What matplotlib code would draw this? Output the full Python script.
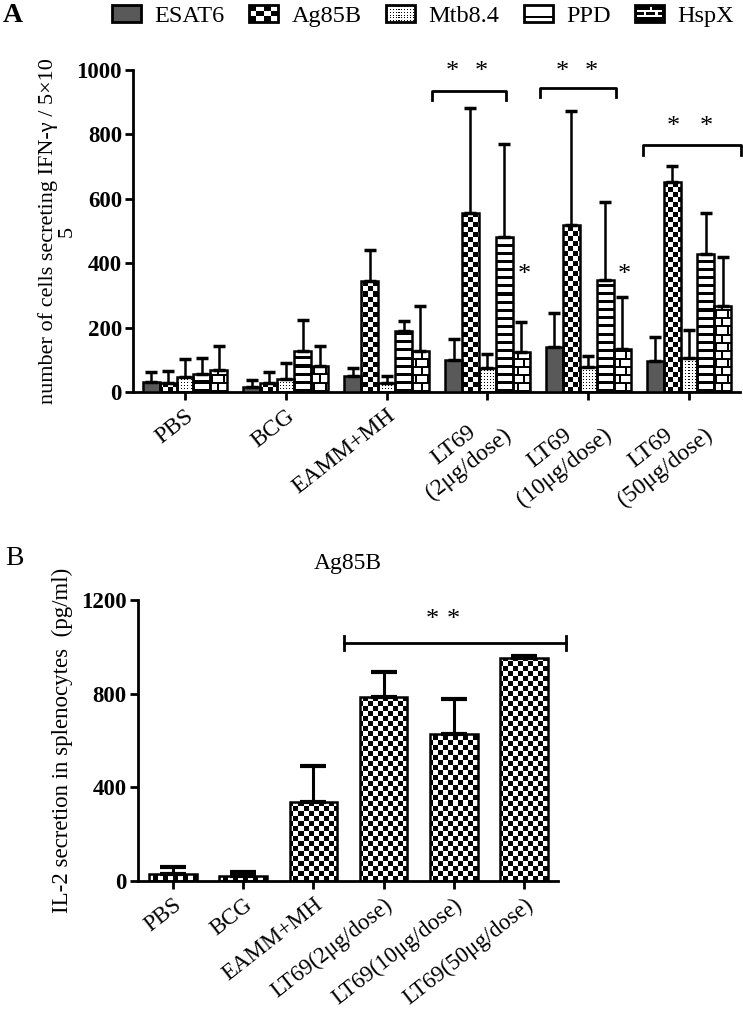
import numpy as np
import matplotlib
matplotlib.use('Agg')
import matplotlib.pyplot as plt
from matplotlib.colors import ListedColormap
from matplotlib.patches import Rectangle
from matplotlib.legend_handler import HandlerBase

plt.rcParams['font.family'] = ['Liberation Serif', 'DejaVu Serif']

# ---- data, panel A (IFN-gamma ELISPOT) ----
groups_a = ['PBS', 'BCG', 'EAMM+MH', 'LT69\n(2μg/dose)', 'LT69\n(10μg/dose)', 'LT69\n(50μg/dose)']
antigens = ['ESAT6', 'Ag85B', 'Mtb8.4', 'PPD', 'HspX']
esat6 = [30, 17, 51, 99, 139, 96]
esat6_sd = [33, 20, 22, 66, 105, 74]
ag85b = [29, 29, 346, 555, 519, 651]
ag85b_sd = [35, 34, 95, 326, 354, 51]
mtb84 = [48, 40, 27, 76, 77, 105]
mtb84_sd = [54, 51, 23, 42, 35, 88]
ppd = [56, 128, 190, 482, 348, 429]
ppd_sd = [50, 94, 30, 288, 241, 126]
hspx = [68, 81, 126, 123, 133, 268]
hspx_sd = [76, 63, 142, 95, 161, 150]

# ---- data, panel B (IL-2, Ag85B) ----
groups_b = ['PBS', 'BCG', 'EAMM+MH', 'LT69(2μg/dose)', 'LT69(10μg/dose)', 'LT69(50μg/dose)']
il2 = [30, 23, 337, 788, 628, 952]
il2_sd = [28, 15, 153, 106, 149, 10]

# significance marks: (x_left, x_right, y_bar, y_tick_end)
brackets_a = [(2.45, 3.18, 936, 908), (3.52, 4.28, 945, 915), (4.54, 5.52, 767, 737)]
stars_a = [(2.65, 995), (2.94, 995), (3.74, 995), (4.03, 995),
           (4.84, 822), (5.17, 822), (3.37, 362), (4.36, 362)]
brackets_b = [(2.44, 5.6, 1016, 1045, 985)]
stars_b = [(3.70, 1115), (3.99, 1115)]

BW = ListedColormap(['white', 'black'])
GRAY = '#595959'
ROT = 38


def texture(kind, w, h):
    yy, xx = np.mgrid[0:h, 0:w]
    if kind == 'checker':
        return ((xx // 5) + (yy // 5)) % 2
    if kind == 'dots':
        return (((xx % 3 == 0) & (yy % 3 == 0))).astype(int)
    if kind == 'stripes':
        return (yy % 8 < 3).astype(int)
    if kind == 'brick':
        band = yy // 8
        hline = yy % 8 < 2
        vline = (xx + (band % 2) * 6) % 12 < 2
        return (hline | vline).astype(int)
    return np.zeros((h, w), dtype=int)


def fill_bars(fig, ax, bars, kind):
    x0, x1 = ax.get_xlim()
    y0, y1 = ax.get_ylim()
    bb = ax.get_position()
    w = int(round(bb.width * fig.bbox.width))
    h = int(round(bb.height * fig.bbox.height))
    arr = texture(kind, w, h)
    for b in bars:
        im = ax.imshow(arr, cmap=BW, vmin=0, vmax=1, extent=(x0, x1, y0, y1),
                       origin='lower', interpolation='nearest', aspect='auto', zorder=2)
        im.set_clip_path(b)
    ax.set_xlim(x0, x1)
    ax.set_ylim(y0, y1)


class TextureHandler(HandlerBase):
    def __init__(self, kind):
        super().__init__()
        self.kind = kind

    def create_artists(self, legend, orig_handle, xdescent, ydescent, width, height, fontsize, trans):
        x0, y0 = -xdescent, -ydescent
        arts = []

        def rect(x, y, w, h, **kw):
            arts.append(Rectangle((x, y), w, h, transform=trans, **kw))

        k = self.kind
        if k == 'solid':
            rect(x0, y0, width, height, fc=GRAY, ec='none')
        elif k == 'checker':
            rect(x0, y0, width, height, fc='white', ec='none')
            for i in range(4):
                for j in range(3):
                    if (i + j) % 2 == 0:
                        rect(x0 + i * width / 4, y0 + j * height / 3, width / 4, height / 3, fc='black', ec='none')
        elif k == 'dots':
            rect(x0, y0, width, height, fc='white', ec='none')
            for i in range(10):
                for j in range(6):
                    rect(x0 + (i + 0.3) * width / 10, y0 + (j + 0.3) * height / 6, 0.8, 0.8, fc='black', ec='none')
        elif k == 'stripes':
            rect(x0, y0, width, height, fc='white', ec='none')
            rect(x0, y0 + height * 0.22, width, height * 0.16, fc='black', ec='none')
        elif k == 'brick':
            rect(x0, y0, width, height, fc='black', ec='none')
            for yf in (0.3, 0.62):
                rect(x0 + 1.5, y0 + height * yf, width - 3, 1.5, fc='white', ec='none')
            for xf, yf in ((0.3, 0.3), (0.7, 0.3), (0.5, 0.62)):
                rect(x0 + width * xf, y0 + height * yf, 1.5, height * 0.32, fc='white', ec='none')
        rect(x0, y0, width, height, fc='none', ec='black', lw=2)
        return arts


def style_axes(ax):
    for s in ('top', 'right'):
        ax.spines[s].set_visible(False)
    for s in ('left', 'bottom'):
        ax.spines[s].set_linewidth(2)
    ax.tick_params(axis='both', width=2, length=6, direction='out')
    ax.tick_params(axis='y', pad=2)
    for t in ax.get_yticklabels():
        t.set_fontsize(16.5)
        t.set_fontweight('bold')


fig = plt.figure(figsize=(7.43, 10.10), dpi=100)

# ================= panel A =================
axa = fig.add_axes([0.179, 0.6119, 0.817, 0.3188])
n = len(groups_a)
x = np.arange(n)
bw = 0.168
series = [(esat6, esat6_sd, 'solid'), (ag85b, ag85b_sd, 'checker'), (mtb84, mtb84_sd, 'dots'),
          (ppd, ppd_sd, 'stripes'), (hspx, hspx_sd, 'brick')]
axa.set_xlim(-0.516, 5.506)
axa.set_ylim(0, 1000)
for i, (vals, sd, kind) in enumerate(series):
    pos = x + (i - 2) * bw
    fc = GRAY if kind == 'solid' else 'none'
    bars = axa.bar(pos, vals, bw, facecolor=fc, edgecolor='black', linewidth=1.8, zorder=3)
    if kind != 'solid':
        fill_bars(fig, axa, bars, kind)
    axa.errorbar(pos, vals, yerr=[np.zeros(n), sd], fmt='none', ecolor='black',
                 elinewidth=1.8, capsize=4.3, capthick=2.5, zorder=4, clip_on=False)

axa.set_xlim(-0.516, 5.506)
axa.set_ylim(0, 1000)
axa.set_yticks([0, 200, 400, 600, 800, 1000])
axa.set_xticks(x)
axa.set_xticklabels(groups_a, fontsize=17, rotation=ROT, ha='right', rotation_mode='anchor',
                    multialignment='center')
style_axes(axa)
axa.set_ylabel('number of cells secreting IFN-γ / 5×10\n5', fontsize=16,
               multialignment='center', linespacing=1.0)
axa.yaxis.set_label_coords(-0.092, 0.5)

for xl, xr, yb, ye in brackets_a:
    axa.plot([xl, xl, xr, xr], [ye, yb, yb, ye], color='black', lw=2, clip_on=False, zorder=5)
for sx, sy in stars_a:
    axa.text(sx, sy, '*', fontsize=19, ha='center', va='center', clip_on=False)

# legend
handles = [Rectangle((0, 0), 1, 1) for _ in antigens]
kinds = ['solid', 'checker', 'dots', 'stripes', 'brick']
fig.legend(handles, antigens, handler_map={h: TextureHandler(k) for h, k in zip(handles, kinds)},
           loc='center left', bbox_to_anchor=(0.1507, 0.984), ncol=5, frameon=False, fontsize=17.5,
           handlelength=1.2, handleheight=0.7, handletextpad=0.55, columnspacing=1.0,
           borderpad=0, borderaxespad=0)
fig.text(0.004, 0.985, 'A', fontsize=20, fontweight='bold', ha='left', va='center')

# ================= panel B =================
axb = fig.add_axes([0.1857, 0.1277, 0.5653, 0.2782])
xb = np.arange(len(groups_b))
axb.set_xlim(-0.499, 5.484)
axb.set_ylim(0, 1200)
bars_b = axb.bar(xb, il2, 0.68, facecolor='none', edgecolor='black', linewidth=1.8, zorder=3)
fill_bars(fig, axb, bars_b, 'checker')
axb.errorbar(xb, il2, yerr=[np.zeros(len(il2)), il2_sd], fmt='none', ecolor='black',
             elinewidth=2.2, capsize=9.7, capthick=3, zorder=4)
axb.set_xlim(-0.499, 5.484)
axb.set_ylim(0, 1200)
axb.set_yticks([0, 400, 800, 1200])
axb.set_xticks(xb)
axb.set_xticklabels(groups_b, fontsize=16.5, rotation=ROT, ha='right', rotation_mode='anchor')
style_axes(axb)
axb.set_ylabel('IL-2 secretion in splenocytes  (pg/ml)', fontsize=16.5, labelpad=6)
axb.set_title('Ag85B', fontsize=17, pad=22)

for xl, xr, yb, yt, ybot in brackets_b:
    axb.plot([xl, xr], [yb, yb], color='black', lw=2, clip_on=False, zorder=5)
    for xe in (xl, xr):
        axb.plot([xe, xe], [ybot, yt], color='black', lw=2, clip_on=False, zorder=5)
for sx, sy in stars_b:
    axb.text(sx, sy, '*', fontsize=19, ha='center', va='center', clip_on=False)

fig.text(0.007, 0.4475, 'B', fontsize=20, ha='left', va='center')

fig.savefig('out.png', dpi=100)
